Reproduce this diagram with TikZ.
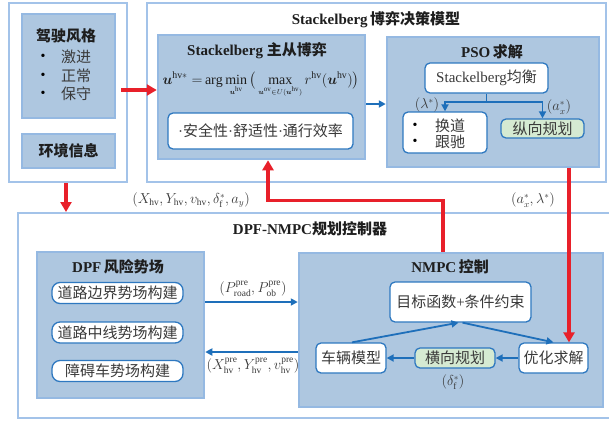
\documentclass[tikz,border=0pt]{standalone}
\usepackage{fontspec}
\usepackage{amsmath}
\setmainfont{Liberation Serif}
\newfontfamily\cjk{Noto Sans CJK SC}
\usetikzlibrary{arrows.meta,calc}
\definecolor{frameblue}{HTML}{A3C3E9}
\definecolor{boxfill}{HTML}{AEC7E0}
\definecolor{boxdraw}{HTML}{95B9E2}
\definecolor{arrowblue}{HTML}{1E6FBA}
\definecolor{innerblue}{HTML}{2E78C0}
\definecolor{redarr}{HTML}{E8202A}
\definecolor{greenfill}{HTML}{D5EAD2}
\definecolor{txtc}{HTML}{3A3A3A}
\definecolor{ttlc}{HTML}{1E1E1E}
\begin{document}
\begin{tikzpicture}[x=1pt,y=-1pt,
  frame/.style={draw=frameblue, line width=2pt, fill=white, inner sep=0pt},
  box/.style={draw=boxdraw, fill=boxfill, line width=2.5pt, inner sep=0pt},
  wbox/.style={draw=innerblue, fill=white, rounded corners=5pt, line width=1.3pt, inner sep=0pt, text=txtc, font=\fontsize{15}{18}\selectfont\cjk},
  gbox/.style={wbox, fill=greenfill},
  ttl/.style={inner sep=0pt, text=ttlc, font=\fontsize{15}{18}\selectfont\bfseries},
  txt/.style={inner sep=0pt, text=txtc, font=\fontsize{15}{18}\selectfont\cjk},
  lbl/.style={inner sep=0pt, text=txtc, font=\fontsize{13.5}{15}\selectfont},
  bul/.style={inner sep=0pt, text=black, font=\fontsize{14}{16}\selectfont},
  bline/.style={draw=arrowblue, line width=1.8pt},
  barr/.style={bline, -{Triangle[length=7pt,width=7pt]}},
  rarr/.style={draw=redarr, line width=3.2pt, -{Triangle[length=10pt,width=11pt]}}
]
\useasboundingbox (0,0) rectangle (609,423);
\fill[white] (0,0) rectangle (609,423);

% ---------- left frame ----------
\node[frame, minimum width=118pt, minimum height=179pt] (lf) at (68,92.5) {};
\node[box, minimum width=93pt, minimum height=104pt] (ds) at (68.5,66) {};
\node[ttl] (dst) at (66,36) {\cjk 驾驶风格};
\node[bul] (b1) at (43,57) {•};
\node[bul] (b2) at (43,76) {•};
\node[bul] (b3) at (43,94) {•};
\node[txt, anchor=west] (s1) at (61,57) {激进};
\node[txt, anchor=west] (s2) at (61,76) {正常};
\node[txt, anchor=west] (s3) at (61,94) {保守};
\node[box, minimum width=93pt, minimum height=34pt] (env) at (68.5,151) {};
\node[ttl] (envt) at (68.5,151) {\cjk 环境信息};

% ---------- top frame ----------
\node[frame, minimum width=459pt, minimum height=179pt] (tf) at (376.5,92.5) {};
\node[ttl] (tft) at (376,20) {Stackelberg\,{\cjk 博弈决策模型}};
\node[box, minimum width=207pt, minimum height=124pt] (sb) at (261.5,97) {};
\node[ttl] (sbt) at (257,51) {Stackelberg {\cjk 主从博弈}};
\node[inner sep=0pt, anchor=base, text=ttlc, font=\fontsize{14}{16}\selectfont] (frm) at (261,84)
  {$\boldsymbol{u}^{\mathrm{hv}*}\;{=}\arg\min\limits_{\scriptscriptstyle\boldsymbol{u}^{\mathrm{hv}}}\big(\max\limits_{\scriptscriptstyle\boldsymbol{u}^{\mathrm{ov}}\in U(\boldsymbol{u}^{\mathrm{hv}})} r^{\mathrm{hv}}(\boldsymbol{u}^{\mathrm{hv}})\big)$};
\node[wbox, minimum width=185pt, minimum height=36pt] (saf) at (260.5,131)
  {{\rmfamily·}安全性{\rmfamily·}舒适性{\rmfamily·}通行效率};

\node[box, minimum width=212pt, minimum height=130pt] (pso) at (493,102) {};
\node[ttl] (psot) at (492,52) {PSO\,{\cjk 求解}};
\node[wbox, minimum width=123pt, minimum height=30pt] (eq) at (486.5,78) {{\rmfamily Stackelberg}均衡};
\node[wbox, minimum width=84pt, minimum height=41pt] (hd) at (445,132.5) {};
\node[bul] (b4) at (415,126) {•};
\node[bul] (b5) at (415,142) {•};
\node[txt, anchor=west] (h1) at (435,126) {换道};
\node[txt, anchor=west] (h2) at (435,142) {跟驰};
\node[gbox, minimum width=83pt, minimum height=19pt] (zx) at (542.5,128.5) {纵向规划};
\node[lbl] (lam) at (427,105) {$(\lambda^{*})$};
\node[lbl] (axl) at (559,107) {$(a_x^{*})$};

\draw[bline] (eq.south) -- ++(0,8) coordinate (sp);
\draw[barr] (sp) -| (hd.north);
\draw[barr] (sp) -| (zx.north);
\draw[barr] (sb.east |- 0,104) -- (pso.west |- 0,104);

% ---------- labels between frames ----------
\node[lbl] (l1) at (191,200) {$(X_{\mathrm{hv}},Y_{\mathrm{hv}},v_{\mathrm{hv}},\delta_{\mathrm f}^{*},a_{y})$};
\node[lbl] (l2) at (533,200) {$(a_x^{*},\lambda^{*})$};

% ---------- bottom frame ----------
\node[frame, minimum width=597pt, minimum height=205pt] (bf) at (316.5,315.5) {};
\node[ttl] (bft) at (310,229) {DPF-NMPC{\cjk 规划控制器}};

\node[box, minimum width=167pt, minimum height=146pt] (dpf) at (120.5,325) {};
\node[ttl] (dpft) at (118,267) {DPF\,{\cjk 风险势场}};
\node[wbox, rounded corners=8pt, minimum width=131pt, minimum height=21pt] (p1) at (117.5,293) {道路边界势场构建};
\node[wbox, rounded corners=8pt, minimum width=131pt, minimum height=21pt] (p2) at (117.5,332.5) {道路中线势场构建};
\node[wbox, rounded corners=8pt, minimum width=131pt, minimum height=21pt] (p3) at (117.5,371) {障碍车势场构建};

\node[box, minimum width=304pt, minimum height=154pt] (nm) at (451,330) {};
\node[ttl] (nmt) at (450,267) {NMPC\,{\cjk 控制}};
\node[wbox, minimum width=141pt, minimum height=40pt] (mb) at (460.5,302) {目标函数{\rmfamily +}条件约束};
\node[wbox, minimum width=70pt, minimum height=30pt] (cl) at (351,358) {车辆模型};
\node[gbox, minimum width=80pt, minimum height=20pt] (hx) at (455,358) {横向规划};
\node[wbox, minimum width=69pt, minimum height=30pt] (yh) at (553.5,358) {优化求解};
\node[lbl] (dl) at (453,382) {$(\delta_{\mathrm f}^{*})$};

\draw[barr] ([xshift=1pt]cl.north) -- ([xshift=-2pt]mb.south);
\draw[barr] ([xshift=2pt]mb.south) -- (yh.north);
\draw[barr] (yh.west) -- (hx.east);
\draw[barr] (hx.west) -- (cl.east);

\node[lbl] (l3) at (253,289) {$(P_{\mathrm{road}}^{\mathrm{pre}},P_{\mathrm{ob}}^{\mathrm{pre}})$};
\node[lbl] (l4) at (253,366) {$(X_{\mathrm{hv}}^{\mathrm{pre}},Y_{\mathrm{hv}}^{\mathrm{pre}},v_{\mathrm{hv}}^{\mathrm{pre}})$};
\draw[barr] (dpf.east |- 0,302) -- (nm.west |- 0,302);
\draw[barr] (nm.west |- 0,352) -- (dpf.east |- 0,352);

% ---------- red arrows ----------
\coordinate (r1) at (121,90);
\draw[rarr] (r1) -- (r1 -| sb.west);
\draw[rarr] ([xshift=-2pt]lf.south) -- ([xshift=-2pt]lf.south |- bf.north);
\draw[rarr] ([xshift=-8pt]nm.north) -- ++(0,-51) -| ([xshift=6.5pt]sb.south);
\coordinate (rc) at (569,0);
\draw[rarr] (pso.south -| rc) -- (yh.north -| rc);
\end{tikzpicture}
\end{document}
